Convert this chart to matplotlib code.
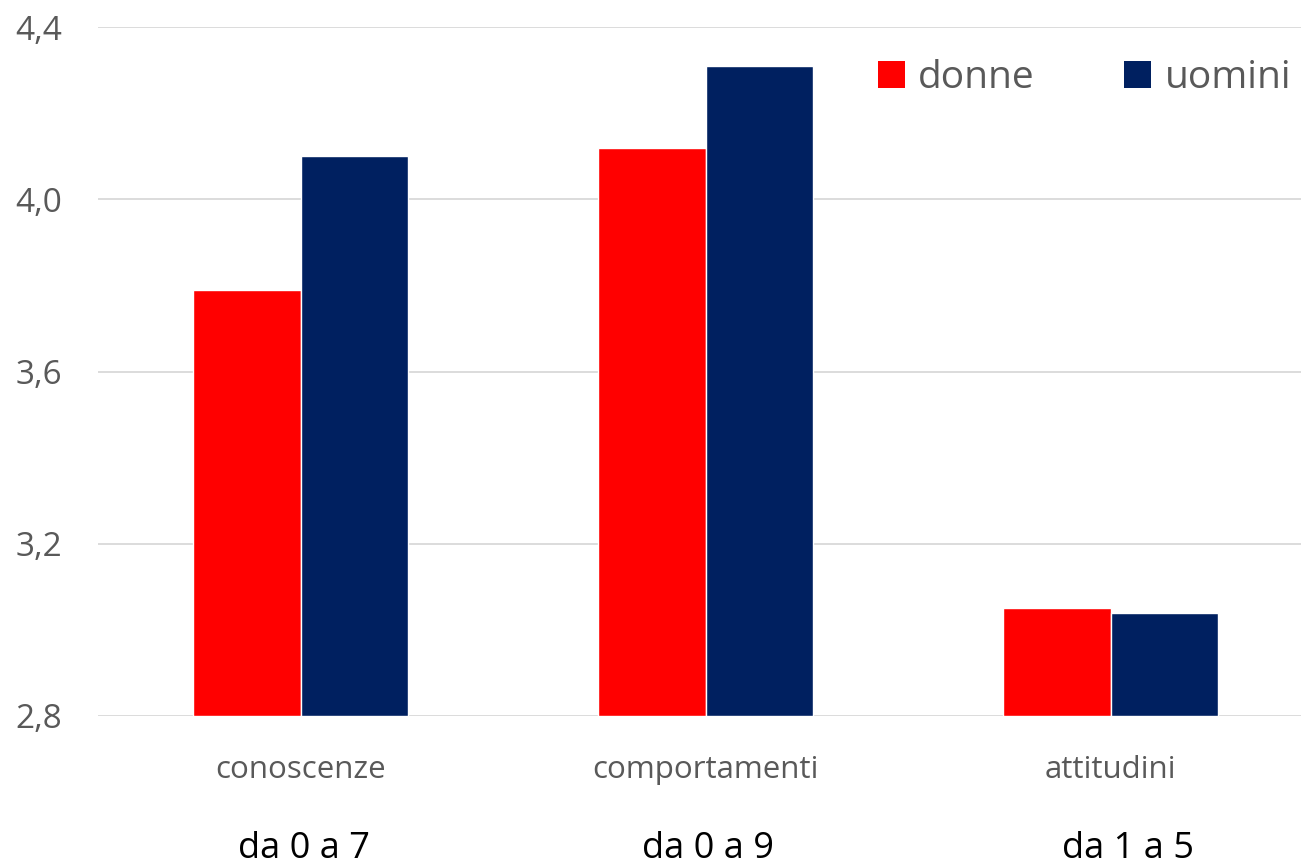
import matplotlib
matplotlib.use("Agg")
import matplotlib.pyplot as plt
import numpy as np
from matplotlib.patches import Patch

categories = ["conoscenze", "comportamenti", "attitudini"]
ranges = ["da 0 a 7", "da 0 a 9", "da 1 a 5"]
donne = [3.79, 4.12, 3.05]
uomini = [4.10, 4.31, 3.04]
yticks = [2.8, 3.2, 3.6, 4.0, 4.4]
ytick_labels = ["2,8", "3,2", "3,6", "4,0", "4,4"]

plt.rcParams['font.family'] = ['Open Sans', 'DejaVu Sans']
W, H = 1301, 865
fig = plt.figure(figsize=(W/100, H/100), dpi=100)
ax = fig.add_axes([98/W, (H-716)/H, (W-98)/W, (716-27)/H])

x = np.arange(len(categories))
bw = 0.266
red = "#FF0000"
navy = "#002060"
ax.bar(x - bw/2, [d - 2.8 for d in donne], bw, bottom=2.8, color=red, edgecolor="white", linewidth=1, zorder=3, label="donne")
ax.bar(x + bw/2, [u - 2.8 for u in uomini], bw, bottom=2.8, color=navy, edgecolor="white", linewidth=1, zorder=3, label="uomini")

ax.set_ylim(2.8, 4.4)
ax.set_xlim(-0.5, (W - 300.5) / 405)
ax.set_yticks(yticks)
ax.set_yticklabels(ytick_labels)
ax.yaxis.grid(True, color="#D9D9D9", linewidth=1.3, zorder=0)
ax.set_axisbelow(True)
for s in ax.spines.values():
    s.set_visible(False)
ax.tick_params(axis='y', length=0, pad=26, labelsize=24, labelcolor="#595959")
ax.tick_params(axis='x', length=0, pad=28, labelsize=22.5, labelcolor="#595959")
ax.set_xticks(x)
ax.set_xticklabels(categories)

for xi, r in zip(x, ranges):
    ax.annotate(r, xy=(xi, 2.8), xycoords='data', xytext=(3 if xi < 2 else 18, -133),
                textcoords='offset pixels',
                ha='center', va='center', fontsize=26, color='black', annotation_clip=False)

handles = [Patch(facecolor=red, edgecolor='none'), Patch(facecolor=navy, edgecolor='none')]
leg = ax.legend(handles, ["donne", "uomini"], loc='upper right', bbox_to_anchor=(1291/W, 1 - 59/H),
                bbox_transform=fig.transFigure, ncol=2, frameon=False, fontsize=28,
                handlelength=0.68, handleheight=0.68, handletextpad=0.35, columnspacing=2.3,
                labelcolor="#595959", borderaxespad=0, borderpad=0)

fig.savefig("out.png", dpi=100)
